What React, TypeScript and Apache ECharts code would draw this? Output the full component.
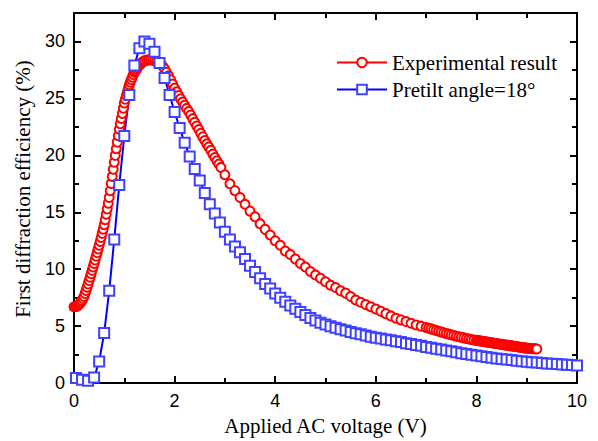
import React, { useEffect, useRef } from "react";
import * as echarts from "echarts";

const xTicks = [0, 2, 4, 6, 8, 10];
const yTicks = [0, 5, 10, 15, 20, 25, 30];
const seriesNames = ["Experimental result", "Pretilt angle=18°"];

const experimentalResult = [
  [0, 6.7], [0.02, 6.71], [0.04, 6.73], [0.06, 6.76], [0.08, 6.82], [0.1, 6.9], [0.12, 7.0], [0.14, 7.12], [0.16, 7.26], [0.18, 7.42],
  [0.2, 7.6], [0.22, 7.86], [0.24, 8.13], [0.26, 8.41], [0.28, 8.7], [0.3, 9.0], [0.32, 9.3], [0.34, 9.6], [0.36, 9.9], [0.38, 10.2],
  [0.4, 10.5], [0.42, 10.82], [0.44, 11.14], [0.46, 11.46], [0.48, 11.78], [0.5, 12.1], [0.52, 12.44], [0.54, 12.79], [0.56, 13.15], [0.58, 13.52],
  [0.6, 13.9], [0.62, 14.35], [0.64, 14.82], [0.66, 15.3], [0.68, 15.8], [0.7, 16.3], [0.72, 16.9], [0.74, 17.52], [0.76, 18.15], [0.78, 18.78],
  [0.8, 19.4], [0.82, 20.0], [0.84, 20.58], [0.86, 21.16], [0.88, 21.73], [0.9, 22.3], [0.92, 22.78], [0.94, 23.24], [0.96, 23.68], [0.98, 24.14],
  [1.0, 24.6], [1.02, 24.93], [1.04, 25.25], [1.06, 25.57], [1.08, 25.89], [1.1, 26.2], [1.12, 26.43], [1.14, 26.65], [1.16, 26.87], [1.18, 27.09],
  [1.2, 27.3], [1.22, 27.43], [1.24, 27.56], [1.26, 27.69], [1.28, 27.82], [1.3, 27.95], [1.32, 28.03], [1.34, 28.1], [1.36, 28.17], [1.38, 28.24],
  [1.4, 28.3], [1.44, 28.34], [1.48, 28.38], [1.52, 28.4], [1.56, 28.36], [1.6, 28.3], [1.64, 28.24], [1.68, 28.16], [1.72, 28.04], [1.76, 27.84],
  [1.8, 27.6], [1.84, 27.3], [1.88, 26.98], [1.92, 26.64], [1.96, 26.26], [2.0, 25.9], [2.04, 25.58], [2.08, 25.26], [2.12, 24.96], [2.16, 24.68],
  [2.2, 24.4], [2.24, 24.12], [2.28, 23.84], [2.32, 23.54], [2.36, 23.22], [2.4, 22.9], [2.44, 22.58], [2.48, 22.26], [2.52, 21.94], [2.56, 21.62],
  [2.6, 21.3], [2.64, 21.02], [2.68, 20.74], [2.72, 20.44], [2.76, 20.12], [2.8, 19.8], [2.84, 19.52], [2.88, 19.24], [2.92, 18.94],
  [3.0, 18.3], [3.1, 17.5], [3.2, 16.9], [3.3, 16.3], [3.4, 15.7], [3.5, 15.1], [3.6, 14.6], [3.7, 14.0], [3.8, 13.5], [3.9, 13.0],
  [4.0, 12.5], [4.1, 12.1], [4.2, 11.6], [4.3, 11.3], [4.4, 10.9], [4.5, 10.5], [4.6, 10.2], [4.7, 9.8], [4.8, 9.5], [4.9, 9.2],
  [5.0, 8.9], [5.1, 8.6], [5.2, 8.4], [5.3, 8.1], [5.4, 7.9], [5.5, 7.6], [5.6, 7.3], [5.7, 7.1], [5.8, 6.9], [5.9, 6.7],
  [6.0, 6.5], [6.1, 6.3], [6.2, 6.1], [6.3, 5.9], [6.4, 5.7], [6.5, 5.55], [6.6, 5.4], [6.7, 5.25], [6.8, 5.1], [6.9, 5.0],
  [7.0, 4.88], [7.05, 4.82], [7.1, 4.76], [7.15, 4.69], [7.2, 4.62], [7.25, 4.55], [7.3, 4.48], [7.35, 4.42], [7.4, 4.36], [7.45, 4.3],
  [7.5, 4.24], [7.55, 4.18], [7.6, 4.12], [7.65, 4.07], [7.7, 4.02], [7.75, 3.97], [7.8, 3.92], [7.85, 3.87], [7.9, 3.83], [7.95, 3.79],
  [8.0, 3.75], [8.03, 3.73], [8.06, 3.71], [8.09, 3.69], [8.12, 3.67], [8.15, 3.65], [8.18, 3.62], [8.21, 3.6], [8.24, 3.58], [8.27, 3.56],
  [8.3, 3.54], [8.33, 3.52], [8.36, 3.49], [8.39, 3.47], [8.42, 3.45], [8.45, 3.43], [8.48, 3.41], [8.51, 3.39], [8.54, 3.37], [8.57, 3.35],
  [8.6, 3.33], [8.63, 3.31], [8.66, 3.29], [8.69, 3.27], [8.72, 3.25], [8.75, 3.23], [8.78, 3.21], [8.81, 3.19], [8.84, 3.17], [8.87, 3.15],
  [8.9, 3.13], [8.93, 3.11], [8.96, 3.09], [8.99, 3.07], [9.02, 3.06], [9.05, 3.05], [9.08, 3.04], [9.11, 3.03], [9.14, 3.02], [9.17, 3.01],
  [9.2, 3.0],
];

const pretiltAngle18 = [
  [0.04, 0.45], [0.16, 0.3], [0.28, 0.2], [0.4, 0.5], [0.5, 1.9], [0.6, 4.4], [0.7, 8.1], [0.8, 12.6], [0.9, 17.4],
  [1.0, 21.7], [1.1, 25.3], [1.2, 27.9], [1.3, 29.4], [1.4, 30.0], [1.5, 29.8], [1.6, 29.1], [1.7, 28.1], [1.8, 26.8], [1.9, 25.3],
  [2.0, 23.8], [2.1, 22.4], [2.2, 21.1], [2.3, 19.9], [2.4, 18.8], [2.5, 17.8], [2.6, 16.7], [2.7, 15.7], [2.8, 14.9], [2.9, 14.1],
  [3.0, 13.3], [3.1, 12.6], [3.2, 12.0], [3.3, 11.5], [3.4, 10.9], [3.5, 10.3], [3.6, 9.75], [3.7, 9.2], [3.8, 8.7], [3.9, 8.3],
  [4.0, 7.86], [4.1, 7.5], [4.2, 7.15], [4.3, 6.82], [4.4, 6.52], [4.5, 6.24], [4.6, 5.97], [4.7, 5.72], [4.8, 5.5], [4.9, 5.3],
  [5.0, 5.15], [5.1, 5.0], [5.2, 4.86], [5.3, 4.73], [5.4, 4.61], [5.5, 4.49], [5.6, 4.38], [5.7, 4.28], [5.8, 4.18], [5.9, 4.08],
  [6.0, 3.99], [6.1, 3.91], [6.2, 3.83], [6.3, 3.76], [6.4, 3.68], [6.5, 3.6], [6.6, 3.51], [6.7, 3.43], [6.8, 3.35], [6.9, 3.27],
  [7.0, 3.18], [7.1, 3.1], [7.2, 3.02], [7.3, 2.95], [7.4, 2.87], [7.5, 2.8], [7.6, 2.7], [7.7, 2.63], [7.8, 2.56], [7.9, 2.49],
  [8.0, 2.42], [8.1, 2.36], [8.2, 2.29], [8.3, 2.22], [8.4, 2.17], [8.5, 2.12], [8.6, 2.07], [8.7, 2.02], [8.8, 1.97], [8.9, 1.92],
  [9.0, 1.88], [9.1, 1.84], [9.2, 1.8], [9.3, 1.76], [9.4, 1.73], [9.5, 1.7], [9.6, 1.67], [9.7, 1.64], [9.8, 1.61], [9.9, 1.58],
  [10.0, 1.55],
];

const X_MIN = xTicks[0];
const X_MAX = xTicks[xTicks.length - 1];
const X_STEP = xTicks[1] - xTicks[0];
const Y_MIN = yTicks[0];
const Y_STEP = yTicks[1] - yTicks[0];
const Y_MAX = 32.5;

export default function App() {
  const ref = useRef<HTMLDivElement>(null);

  useEffect(() => {
    if (!ref.current) return;
    const chart = echarts.init(ref.current, null, { renderer: "svg" });
    const black = "#000";
    const lineW = 2;
    const sans = "Liberation Sans";
    const serif = "Liberation Serif";

    const xBase = (pos: "bottom" | "top", labels: boolean) => ({
      type: "value",
      position: pos,
      min: X_MIN,
      max: X_MAX,
      interval: X_STEP,
      axisLine: { show: true, onZero: false, lineStyle: { color: black, width: lineW } },
      axisTick: { show: true, inside: true, length: 7, lineStyle: { color: black, width: lineW } },
      minorTick: { show: true, splitNumber: 2, length: 5, lineStyle: { color: black, width: lineW } },
      splitLine: { show: false },
      axisLabel: { show: labels, color: black, fontFamily: sans, fontSize: 18, margin: 9 },
      ...(labels
        ? {
            name: "Applied AC voltage (V)",
            nameLocation: "middle",
            nameGap: 31,
            nameTextStyle: { color: black, fontFamily: serif, fontSize: 21 },
          }
        : {}),
    });

    const yBase = (pos: "left" | "right", interval: number, tickLen: number, showLine: boolean, labels: boolean) => ({
      type: "value",
      position: pos,
      min: Y_MIN,
      max: Y_MAX,
      interval,
      axisLine: { show: showLine, onZero: false, lineStyle: { color: black, width: lineW } },
      axisTick: { show: true, inside: true, length: tickLen, lineStyle: { color: black, width: lineW } },
      splitLine: { show: false },
      axisLabel: {
        show: labels,
        color: black,
        fontFamily: sans,
        fontSize: 18,
        margin: 9,
        formatter: (v: number) => (yTicks.includes(v) ? String(v) : ""),
      },
      ...(labels
        ? {
            name: "First diffraction efficiency (%)",
            nameLocation: "middle",
            nameGap: 41,
            nameTextStyle: { color: black, fontFamily: serif, fontSize: 21, padding: [0, 0, 0, 18] },
          }
        : {}),
    });

    chart.setOption({
      animation: false,
      backgroundColor: "#fff",
      grid: { left: 74, right: 21, top: 13, bottom: 56, containLabel: false },
      legend: {
        orient: "vertical",
        left: 331,
        top: 47,
        itemWidth: 50,
        itemHeight: 12,
        itemGap: 6,
        textStyle: { color: black, fontFamily: serif, fontSize: 21 },
        data: seriesNames,
      },
      xAxis: [xBase("bottom", true), xBase("top", false)],
      yAxis: [
        yBase("left", Y_STEP / 2, 5, true, true),
        yBase("left", Y_STEP, 7, false, false),
        yBase("right", Y_STEP / 2, 5, true, false),
        yBase("right", Y_STEP, 7, false, false),
      ],
      series: [
        {
          name: seriesNames[0],
          type: "line",
          xAxisIndex: 0,
          yAxisIndex: 0,
          data: experimentalResult,
          symbol: "emptyCircle",
          symbolSize: 9,
          itemStyle: { color: "#ff0000", borderWidth: 1 },
          lineStyle: { color: "#ff0000", width: 1.5 },
          clip: false,
        },
        {
          name: seriesNames[1],
          type: "line",
          xAxisIndex: 0,
          yAxisIndex: 0,
          data: pretiltAngle18,
          symbol: "emptyRect",
          symbolSize: 10,
          itemStyle: { color: "#4040ff", borderWidth: 1 },
          lineStyle: { color: "#0000ff", width: 2 },
          clip: false,
        },
      ],
    });

    return () => chart.dispose();
  }, []);

  return (
    <div
      ref={ref}
      style={{ position: "fixed", left: 0, top: 0, width: 598, height: 441, background: "#fff" }}
    />
  );
}
